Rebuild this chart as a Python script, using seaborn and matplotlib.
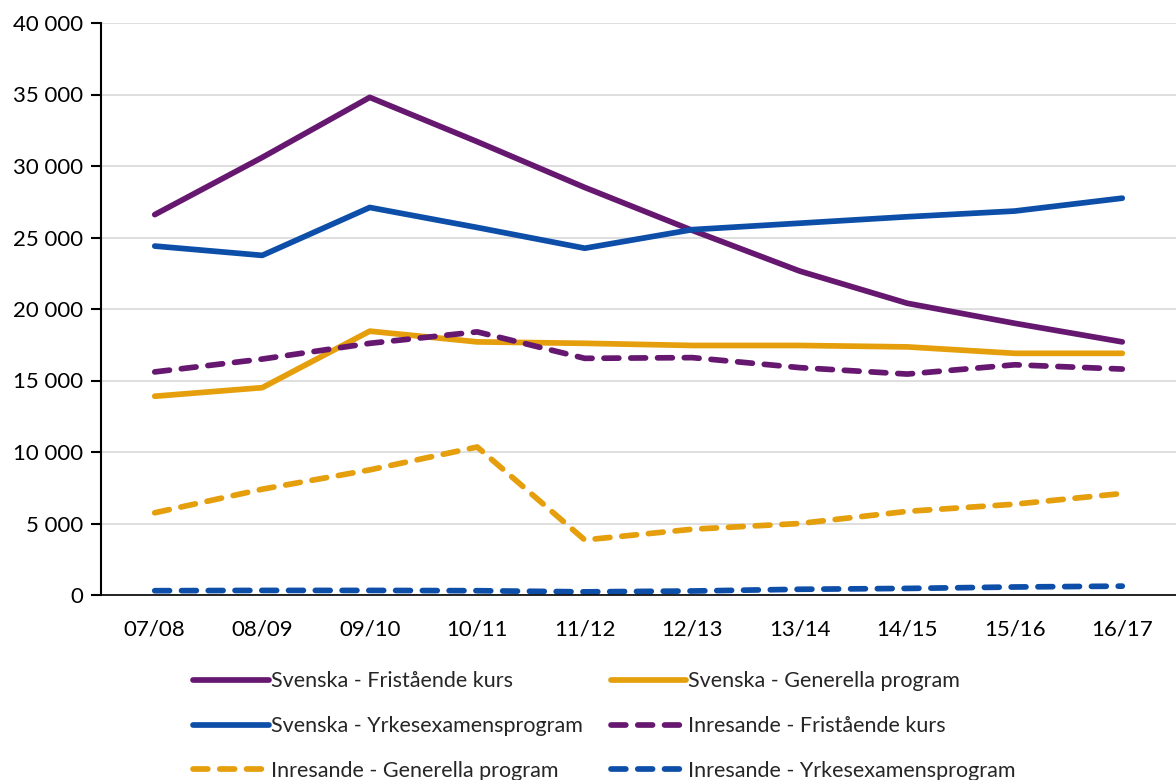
import pandas as pd
import seaborn as sns
import matplotlib.pyplot as plt
from matplotlib.ticker import FuncFormatter

# Academic years on the x axis
years = ['07/08', '08/09', '09/10', '10/11', '11/12',
         '12/13', '13/14', '14/15', '15/16', '16/17']

# Series values (number of students)
svenska_fristaende = [26600, 30600, 34800, 31700, 28500, 25500, 22650, 20400, 19000, 17700]
svenska_generella = [13900, 14500, 18450, 17700, 17600, 17450, 17450, 17350, 16900, 16900]
svenska_yrkes = [24400, 23750, 27100, 25700, 24250, 25550, 26000, 26450, 26850, 27750]
inresande_fristaende = [15600, 16500, 17600, 18400, 16550, 16600, 15900, 15450, 16100, 15800]
inresande_generella = [5750, 7400, 8750, 10350, 3850, 4600, 5000, 5850, 6350, 7100]
inresande_yrkes = [300, 320, 320, 300, 220, 280, 400, 460, 560, 620]

series = {
    'Svenska - Fristående kurs': svenska_fristaende,
    'Svenska - Generella program': svenska_generella,
    'Svenska - Yrkesexamensprogram': svenska_yrkes,
    'Inresande - Fristående kurs': inresande_fristaende,
    'Inresande - Generella program': inresande_generella,
    'Inresande - Yrkesexamensprogram': inresande_yrkes,
}

purple = '#661870'
orange = '#e59e0c'
blue = '#0c4ea8'
palette = {
    'Svenska - Fristående kurs': purple,
    'Svenska - Generella program': orange,
    'Svenska - Yrkesexamensprogram': blue,
    'Inresande - Fristående kurs': purple,
    'Inresande - Generella program': orange,
    'Inresande - Yrkesexamensprogram': blue,
}
dash = (2.6, 2.1)
dashes = {name: ('' if name.startswith('Svenska') else dash) for name in series}

rows = []
for name, vals in series.items():
    for i, v in enumerate(vals):
        rows.append({'pos': i, 'value': v, 'serie': name})
df = pd.DataFrame(rows)

sns.set_style('white')
plt.rcParams['font.family'] = ['Lato', 'DejaVu Sans']

fig = plt.figure(figsize=(11.76, 7.8), dpi=100)
ax = fig.add_axes([101 / 1176, 1 - 595 / 780, 1 - 101 / 1176, (595 - 23) / 780])

sns.lineplot(data=df, x='pos', y='value', hue='serie', style='serie',
             palette=palette, dashes=dashes, linewidth=4.1, ax=ax, legend=False)
for line in ax.get_lines():
    line.set_solid_capstyle('round')
    line.set_dash_capstyle('round')
    line.set_solid_joinstyle('round')

ax.set_xlim(-0.5, 9.5)
ax.set_ylim(0, 40000)
ax.set_xticks(range(len(years)))
ax.set_xticklabels(years)
ax.set_yticks(range(0, 40001, 5000))
ax.yaxis.set_major_formatter(FuncFormatter(lambda v, p: f'{int(v):,}'.replace(',', ' ')))
ax.tick_params(axis='both', labelsize=16, colors='black')
ax.tick_params(axis='y', direction='out', length=7, width=1.5, left=True, pad=6)
ax.tick_params(axis='x', length=0, pad=18)
ax.set_xlabel('')
ax.set_ylabel('')

ax.grid(axis='y', color='#d9d9d9', linewidth=1.2)
ax.set_axisbelow(True)
for side in ['top', 'right']:
    ax.spines[side].set_visible(False)
ax.spines['left'].set_color('black')
ax.spines['left'].set_linewidth(1.5)
ax.spines['bottom'].set_color('black')
ax.spines['bottom'].set_linewidth(1.2)

# legend, filled column by column
lines = dict(zip(series.keys(), ax.get_lines()))
order = ['Svenska - Fristående kurs', 'Svenska - Yrkesexamensprogram',
         'Inresande - Generella program', 'Svenska - Generella program',
         'Inresande - Fristående kurs', 'Inresande - Yrkesexamensprogram']
fig.legend([lines[k] for k in order], order, ncol=2, loc='upper center',
           bbox_to_anchor=(0.514, 1 - 652 / 780), frameon=False, fontsize=15.5,
           handlelength=3.5, handletextpad=0.1, columnspacing=1.3,
           labelspacing=1.15)

fig.savefig('out.png', dpi=100)
